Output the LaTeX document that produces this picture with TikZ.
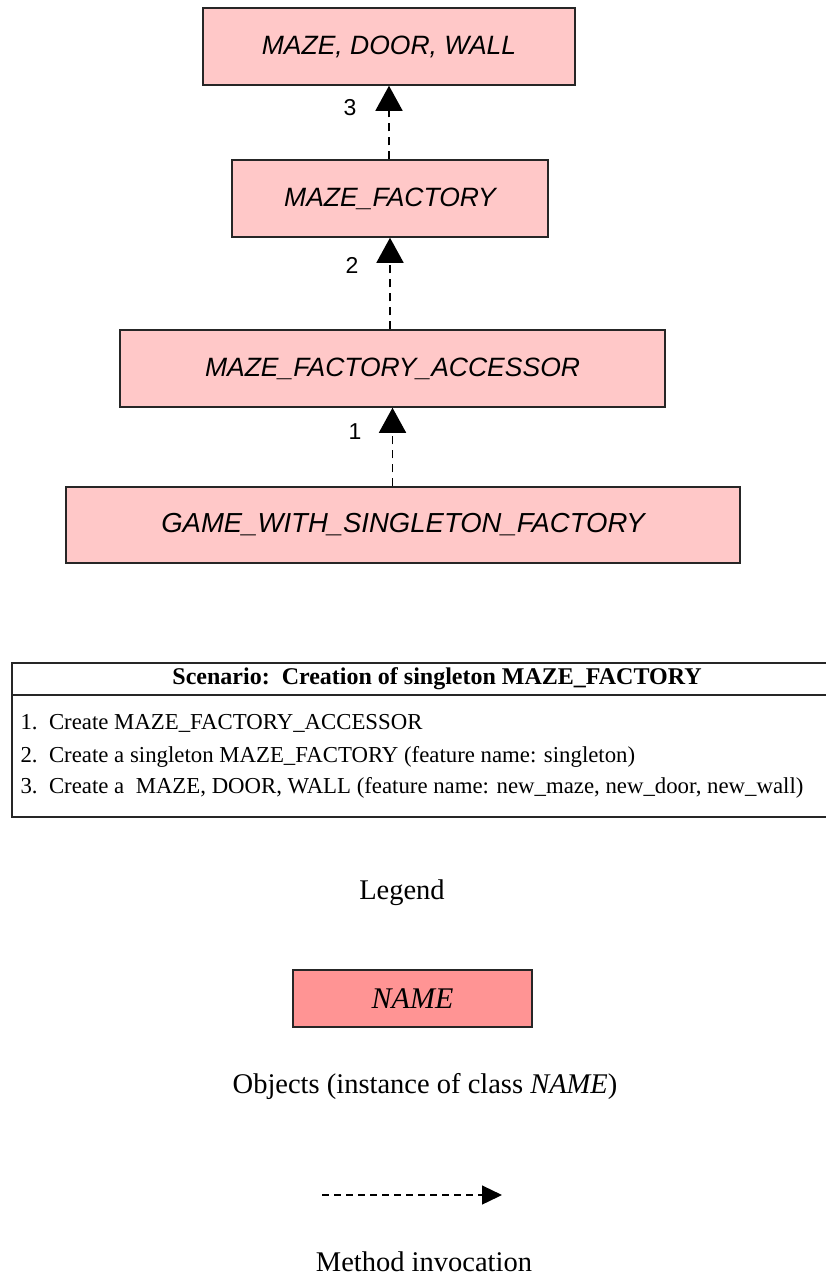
\documentclass[tikz,border=0pt]{standalone}
\usepackage{fontspec}
\setmainfont{Liberation Serif}
\newfontfamily\arialfont{Liberation Sans}
\usetikzlibrary{arrows.meta}
\definecolor{objpink}{RGB}{255,200,200}
\definecolor{legpink}{RGB}{255,148,148}
\begin{document}
\begin{tikzpicture}[x=1pt,y=-1pt,
  objbox/.style={draw=black!85,line width=1.5pt,fill=objpink,inner sep=0pt,
    font=\arialfont\itshape\fontsize{26.5}{30}\selectfont},
  call/.style={line width=1.5pt,dash pattern=on 8pt off 6pt,
    -{Triangle[width=27pt,length=25pt]}},
  numlbl/.style={font=\arialfont\fontsize{23}{28}\selectfont},
  serif/.style={font=\fontsize{22.8}{26}\selectfont},
  legtext/.style={inner sep=0pt,font=\fontsize{28.5}{32}\selectfont}]
\useasboundingbox (0,0) rectangle (826,1278);
% objects
\node[objbox,minimum width=372pt,minimum height=77pt] (b1) at (389,46.5) {MAZE, DOOR, WALL};
\node[objbox,minimum width=316pt,minimum height=77pt] (b2) at (390,198.5) {MAZE\_FACTORY};
\node[objbox,minimum width=545pt,minimum height=77pt] (b3) at (392.5,368.5) {MAZE\_FACTORY\_ACCESSOR};
\node[objbox,minimum width=674pt,minimum height=76pt,font=\arialfont\itshape\fontsize{27.5}{30}\selectfont] (b4) at (403,525) {GAME\_WITH\_SINGLETON\_FACTORY};
% invocations
\draw[call] (b1.south |- b2.north) -- (b1.south);
\draw[call] (b2.south |- b3.north) -- (b2.south);
\draw[call] (b3.south |- b4.north) -- (b3.south);
\node[numlbl] (n3) at (350,108) {3};
\node[numlbl] (n2) at (352,265) {2};
\node[numlbl] (n1) at (355,432) {1};
% scenario table
\draw[line width=1.5pt,black!85] (826,663) -- (12,663) -- (12,817) -- (826,817);
\draw[line width=1.5pt,black!85] (12,695) -- (826,695);
\node[font=\bfseries\fontsize{24}{28}\selectfont] (hdr) at (437,679) {Scenario:\ \ Creation of singleton MAZE\_FACTORY};
\node[serif,anchor=west] (r1) at (17,723) {1.\ \ Create MAZE\_FACTORY\_ACCESSOR};
\node[serif,anchor=west] (r2) at (17,757) {2.\ \ Create a singleton MAZE\_FACTORY (feature name: singleton)};
\node[serif,anchor=west] (r3) at (17,788) {3.\ \ Create a\ \ MAZE, DOOR, WALL (feature name: new\_maze, new\_door, new\_wall)};
% legend
\node[legtext] (leg) at (402,893) {Legend};
\node[draw=black!85,line width=1.5pt,fill=legpink,inner sep=0pt,minimum width=239pt,minimum height=57pt,
  font=\itshape\fontsize{30}{34}\selectfont] (nm) at (412.5,998.5) {NAME};
\node[legtext] (objs) at (425,1086) {Objects (instance of class \textit{NAME})};
\coordinate (ls) at (322,1195);
\coordinate (le) at (502,1195);
\draw[line width=1.3pt,dash pattern=on 7pt off 5pt,-{Triangle[width=19pt,length=20pt]}] (ls) -- (le);
\node[legtext] (mi) at (424,1262) {Method invocation};
\end{tikzpicture}
\end{document}
